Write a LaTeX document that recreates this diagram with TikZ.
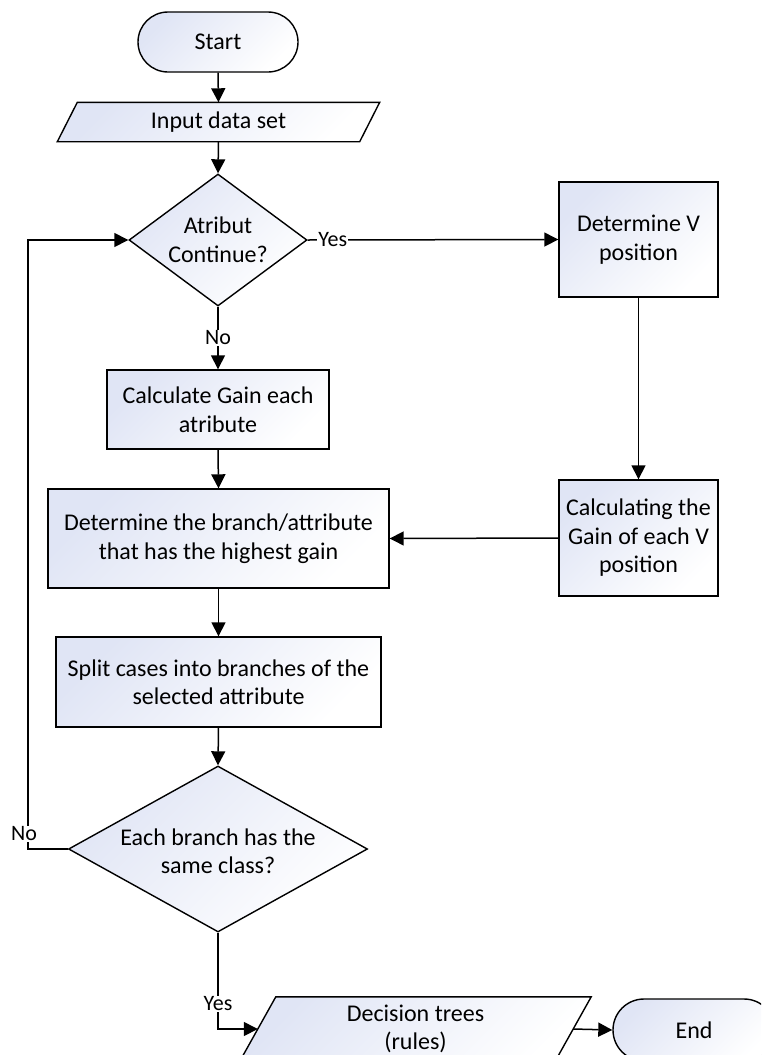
\documentclass[tikz,border=0pt]{standalone}
\usepackage{fontspec}
\setmainfont{Carlito}
\usetikzlibrary{arrows.meta,shapes.geometric,backgrounds}
\definecolor{fillc}{RGB}{224,229,245}
\tikzset{
  x=1pt,y=-1pt,
  every node/.style={font=\fontsize{24}{28.5}\selectfont},
  shadefill/.style={top color=fillc, bottom color=white, shading angle=45, draw=black, line width=1.4pt},
  procbox/.style={rectangle, shadefill, inner sep=0pt, align=center},
  termbox/.style={rectangle, rounded corners=30pt, shadefill, inner sep=0pt, align=center},
  iobox/.style={rectangle, inner sep=0pt, align=center},
  decbox/.style={diamond, shadefill, inner sep=0pt},
  arr/.style={line width=1.5pt, -{Triangle[length=14pt,width=14pt]}},
  lab/.style={fill=white, inner sep=1pt, font=\fontsize{22}{25}\selectfont},
}
\begin{document}
\begin{tikzpicture}
\useasboundingbox (0,0) rectangle (761,1055);
\clip (0,0) rectangle (761,1055);

% nodes
\node[termbox, minimum width=160pt, minimum height=60pt] (start) at (218,42) {Start};
\node[iobox, minimum width=302pt, minimum height=39pt] (inp) at (218.5,122) {Input data set};
\node[decbox, minimum width=178pt, minimum height=132pt] (d1) at (218,240) {};
\node[align=center] (d1t) at (218,240) {Atribut\\Continue?};
\node[procbox, minimum width=159pt, minimum height=115pt] (detV) at (638.5,239.5) {Determine V\\position};
\node[procbox, minimum width=222pt, minimum height=79pt] (calcG) at (218,409.5) {Calculate Gain each\\atribute};
\node[procbox, minimum width=159pt, minimum height=116pt] (calcV) at (638.5,538) {Calculating the\\Gain of each V\\position};
\node[procbox, minimum width=341pt, minimum height=99pt] (branch) at (218.5,538.5) {Determine the branch/attribute\\that has the highest gain};
\node[procbox, minimum width=325pt, minimum height=90pt] (split) at (218.5,682) {Split cases into branches of the\\selected attribute};
\node[decbox, minimum width=299pt, minimum height=166pt] (d2) at (218,849) {};
\node[align=center] (d2t) at (218,851) {Each branch has the\\same class?};
\node[iobox, minimum width=315pt, minimum height=64pt] (dec) at (415.5,1029) {Decision trees\\(rules)};
\node[termbox, rounded corners=31pt, minimum width=162pt, minimum height=62pt] (endn) at (694,1030) {End};

% parallelogram outlines
\begin{scope}[on background layer]
\path[shadefill] ([xshift=10pt]inp.north west) -- ([xshift=10pt]inp.north east)
  -- ([xshift=-10pt]inp.south east) -- ([xshift=-10pt]inp.south west) -- cycle;
\path[shadefill] ([xshift=18pt]dec.north west) -- ([xshift=18pt]dec.north east)
  -- ([xshift=-18pt]dec.south east) -- ([xshift=-18pt]dec.south west) -- cycle;
\end{scope}

% connectors
\draw[arr] (start.south) -- (inp.north);
\draw[arr] (inp.south) -- (d1.north);
\draw[arr] (d1.east) -- node[lab, pos=0.1] {Yes} (detV.west);
\draw[arr] (d1.south) -- node[lab, pos=0.5] {No} (calcG.north);
\draw[arr] (calcG.south) -- (branch.north);
\draw[arr] (detV.south) -- (calcV.north);
\draw[arr] (calcV.west) -- (branch.east);
\draw[arr] (branch.south) -- (split.north);
\draw[arr] (split.south) -- (d2.north);
\coordinate (c1) at (28,849);
\draw[arr] (d2.west) -- (c1) |- (d1.west);
\node[lab] (nolab) at (24,834) {No};
\draw[arr] (d2.south) |- node[lab, pos=0.37] {Yes} (dec.west);
\draw[arr] (dec.east) -- (endn.west);
\end{tikzpicture}
\end{document}
